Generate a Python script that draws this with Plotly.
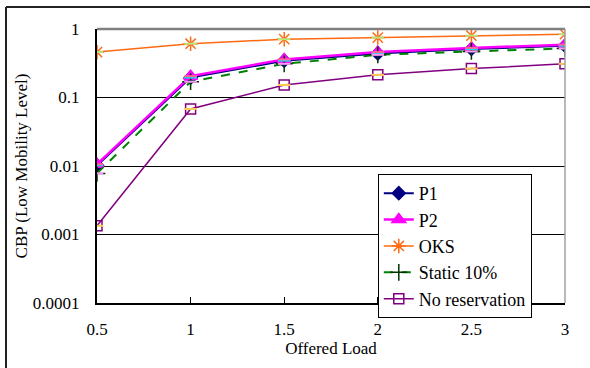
import plotly.graph_objects as go

load = [0.5, 1, 1.5, 2, 2.5, 3]
p1 = [0.0102, 0.195, 0.345, 0.44, 0.51, 0.57]
p2 = [0.0106, 0.205, 0.36, 0.46, 0.53, 0.59]
oks = [0.46, 0.61, 0.71, 0.75, 0.80, 0.84]
static10 = [0.0078, 0.17, 0.31, 0.42, 0.47, 0.52]
nores = [0.00134, 0.068, 0.152, 0.214, 0.264, 0.31]

x_ticks = [0.5, 1, 1.5, 2, 2.5, 3]
x_labels = ["0.5", "1", "1.5", "2", "2.5", "3"]
y_ticks = [0.0001, 0.001, 0.01, 0.1, 1]
y_labels = ["0.0001", "0.001", "0.01", "0.1", "1"]

FONT = "Liberation Serif"

fig = go.Figure()

series = [
    ("P1", p1, "#000080", "solid", 2, "diamond", 10, "#000080"),
    ("P2", p2, "#FF00FF", "solid", 2.5, "triangle-up", 12, "#FF00FF"),
    ("OKS", oks, "#FF6A13", "solid", 1.5, "asterisk-open", 12, "#FF6A13"),
    ("Static 10%", static10, "#008000", "dash", 2, "cross-thin-open", 12, "#003300"),
    ("No reservation", nores, "#800080", "solid", 1.5, "square-open", 10, "#800080"),
]

for name, vals, col, dash, w, sym, sz, mcol in series:
    fig.add_trace(go.Scatter(
        x=load, y=vals, name=name, mode="lines+markers",
        line=dict(color=col, width=w, dash=dash),
        marker=dict(symbol=sym, size=sz, color=mcol,
                    line=dict(color=mcol, width=1.5)),
    ))

# small black dashes drawn at each data point (as in the original)
for name, vals, col, dash, w, sym, sz, mcol in series:
    fig.add_trace(go.Scatter(
        x=load, y=vals, mode="markers", showlegend=False, hoverinfo="skip",
        marker=dict(symbol="line-ew-open", size=9,
                    line=dict(color="black", width=2)),
    ))

fig.update_layout(
    width=590, height=368,
    margin=dict(l=97, r=25, t=29, b=65),
    paper_bgcolor="white", plot_bgcolor="white",
    font=dict(family=FONT, size=17, color="black"),
    showlegend=True,
    legend=dict(
        x=0.6, y=0.471, xanchor="left", yanchor="top",
        bgcolor="white", bordercolor="black", borderwidth=1,
        font=dict(family=FONT, size=18, color="black"),
        tracegroupgap=0,
    ),
    xaxis=dict(
        range=[0.5, 3], tickvals=x_ticks, ticktext=x_labels,
        showgrid=False, zeroline=False,
        showline=True, linecolor="black", linewidth=2,
        ticks="inside", ticklen=6, tickcolor="black", tickwidth=1,
        tickfont=dict(family=FONT, size=17, color="black"),
        ticklabelstandoff=10,
        title=dict(text="Offered Load", font=dict(family=FONT, size=17, color="black"), standoff=4),
    ),
    yaxis=dict(
        type="log", range=[-4, 0], tickvals=y_ticks, ticktext=y_labels,
        showgrid=True, gridcolor="black", gridwidth=1,
        zeroline=False,
        showline=True, linecolor="black", linewidth=2,
        ticks="", ticklabelstandoff=12,
        tickfont=dict(family=FONT, size=17, color="black"),
        title=dict(text="CBP (Low Mobility Level)", font=dict(family=FONT, size=17, color="black"), standoff=1),
    ),
)

# gray top and right plot frame
fig.add_shape(type="line", xref="paper", yref="paper", x0=0, x1=1, y0=1, y1=1,
              line=dict(color="#808080", width=2.5))
fig.add_shape(type="line", xref="paper", yref="paper", x0=1, x1=1, y0=0, y1=1,
              line=dict(color="#A0A0A0", width=1.5))

# outer figure border (left and top visible)
fig.add_shape(type="line", xref="paper", yref="paper",
              x0=(6 - 97) / 468, x1=(6 - 97) / 468, y0=(303 - 370) / 274, y1=1 + (29 - 7) / 274,
              line=dict(color="#222222", width=2))
fig.add_shape(type="line", xref="paper", yref="paper",
              x0=(6 - 97) / 468, x1=(592 - 97) / 468, y0=1 + (29 - 7) / 274, y1=1 + (29 - 7) / 274,
              line=dict(color="#222222", width=2))

fig.write_html("out.html")
